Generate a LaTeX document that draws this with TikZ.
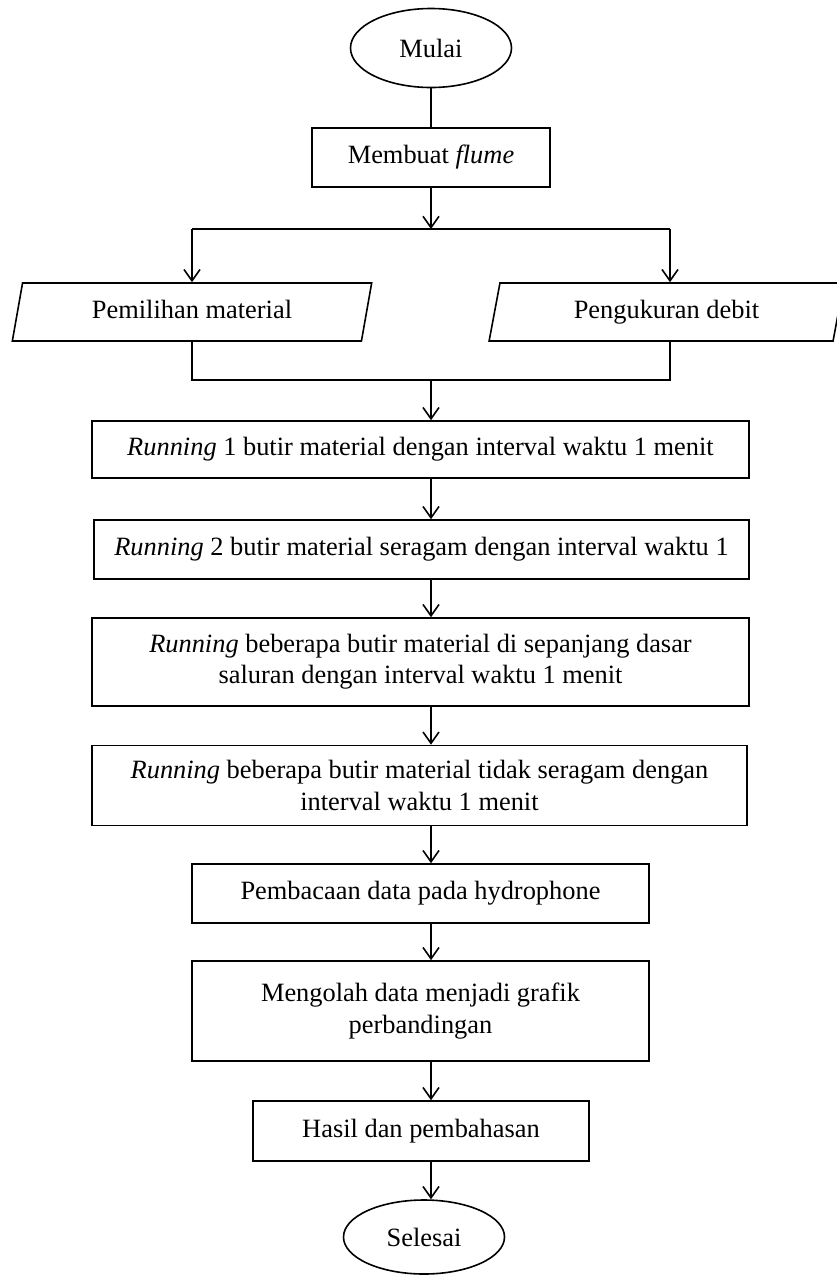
\documentclass[tikz,border=0pt]{standalone}
\usepackage{fontspec}
\setmainfont{Liberation Serif}
\usetikzlibrary{shapes.geometric,arrows.meta}

\begin{document}
\begin{tikzpicture}[x=0.75pt,y=0.75pt,yscale=-1,xscale=1,
	every node/.style={font=\fontsize{19.8}{23.5}\selectfont, align=center, inner sep=0pt},
	proc/.style={draw, line width=1.2pt, rectangle},
	term/.style={draw, line width=1.2pt, ellipse},
	io/.style={draw, line width=1.2pt, trapezium, trapezium left angle=75.5, trapezium right angle=104.5, trapezium stretches=true, text height=13.5pt, text depth=4pt},
	link/.style={line width=1.2pt},
	flow/.style={line width=1.2pt, -{Straight Barb[length=8.5pt,width=12pt]}}]
	%set diagram left start at 0, and has height of 1275
	\useasboundingbox (0,0) rectangle (836,1275);
	
	%Shape: Ellipse [start]
	\node [term, minimum width=120.75pt, minimum height=59.25pt] (mulai) at (431,48) {Mulai};
	%Shape: Rectangle [flume]
	\node [proc, minimum width=178.5pt, minimum height=44.25pt] (flume) at (431,157.5) {Membuat \textit{flume}};
	%Shape: Parallelogram [material]
	\node [io, minimum width=270pt, minimum height=43.5pt] (material) at (192,312) {Pemilihan material};
	%Shape: Parallelogram [debit]
	\node [io, minimum width=266.25pt, minimum height=43.5pt] (debit) at (666.5,312) {Pengukuran debit};
	%Shape: Rectangle [run1]
	\node [proc, minimum width=492.75pt, minimum height=42.75pt] (runA) at (420.5,449.5) {\textit{Running} 1 butir material dengan interval waktu 1 menit};
	%Shape: Rectangle [run2]
	\node [proc, minimum width=491.25pt, minimum height=44.25pt] (runB) at (421.5,549.5) {\textit{Running} 2 butir material seragam dengan interval waktu 1};
	%Shape: Rectangle [run3]
	\node [proc, minimum width=492.75pt, minimum height=66pt] (runC) at (420.5,662) {\textit{Running} beberapa butir material di sepanjang dasar\\saluran dengan interval waktu 1 menit};
	%Shape: Rectangle [run4]
	\node [proc, minimum width=491.25pt, minimum height=60pt] (runD) at (419.5,785.5) {\textit{Running} beberapa butir material tidak seragam dengan\\interval waktu 1 menit};
	%Shape: Rectangle [baca]
	\node [proc, minimum width=342.75pt, minimum height=44.25pt] (baca) at (420.5,893.5) {Pembacaan data pada hydrophone};
	%Shape: Rectangle [olah]
	\node [proc, minimum width=342.75pt, minimum height=75pt] (olah) at (420.5,1011) {Mengolah data menjadi grafik\\perbandingan};
	%Shape: Rectangle [hasil]
	\node [proc, minimum width=252pt, minimum height=45pt] (hasil) at (421,1131) {Hasil dan pembahasan};
	%Shape: Ellipse [end]
	\node [term, minimum width=120.75pt, minimum height=55.5pt] (selesai) at (424,1237) {Selesai};
	
	%Points of the connectors
	\coordinate (spine) at (431,0);
	\coordinate (split) at (431,229);
	\coordinate (splitL) at (192,229);
	\coordinate (splitR) at (670,229);
	\coordinate (joinL) at (192,380);
	\coordinate (joinR) at (670,380);
	\coordinate (join) at (431,380);
	
	%Straight Lines [start to flume]
	\draw [link] (mulai.south -| spine) -- (flume.north -| spine);
	%Straight Lines [flume to branches]
	\draw [flow] (flume.south -| spine) -- (split);
	\draw [link] (splitL) -- (splitR);
	\draw [flow] (splitL) -- (material.north -| splitL);
	\draw [flow] (splitR) -- (debit.north -| splitR);
	%Straight Lines [branches back together]
	\draw [link] (material.south -| joinL) -- (joinL) -- (joinR) -- (debit.south -| joinR);
	\draw [flow] (join) -- (runA.north -| spine);
	%Straight Lines [main column]
	\draw [flow] (runA.south -| spine) -- (runB.north -| spine);
	\draw [flow] (runB.south -| spine) -- (runC.north -| spine);
	\draw [flow] (runC.south -| spine) -- (runD.north -| spine);
	\draw [flow] (runD.south -| spine) -- (baca.north -| spine);
	\draw [flow] (baca.south -| spine) -- (olah.north -| spine);
	\draw [flow] (olah.south -| spine) -- (hasil.north -| spine);
	\draw [flow] (hasil.south -| spine) -- (selesai.north -| spine);
	
\end{tikzpicture}
\end{document}
